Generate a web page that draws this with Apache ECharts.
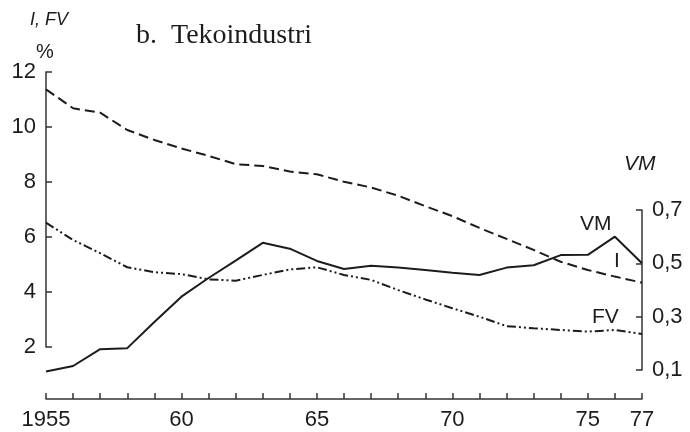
<!DOCTYPE html>
<html>
<head>
<meta charset="utf-8">
<script src="https://cdn.jsdelivr.net/npm/echarts@6/dist/echarts.min.js"></script>
<style>
  html, body { margin: 0; padding: 0; background: #fff; }
  #chart { width: 690px; height: 432px; }
</style>
</head>
<body>
<div id="chart"></div>
<script>
// Years 1955–1977
const years = [1955, 1956, 1957, 1958, 1959, 1960, 1961, 1962, 1963, 1964, 1965, 1966,
               1967, 1968, 1969, 1970, 1971, 1972, 1973, 1974, 1975, 1976, 1977];

// I (%), left axis
const seriesI = [11.37, 10.68, 10.52, 9.89, 9.53, 9.22, 8.95, 8.65, 8.58, 8.38, 8.28, 8.01,
                 7.80, 7.50, 7.12, 6.76, 6.33, 5.93, 5.53, 5.10, 4.80, 4.56, 4.34];

// FV (%), left axis
const seriesFV = [6.52, 5.89, 5.41, 4.90, 4.72, 4.65, 4.46, 4.41, 4.62, 4.82, 4.90, 4.62,
                  4.44, 4.07, 3.73, 3.41, 3.10, 2.76, 2.68, 2.62, 2.56, 2.62, 2.47];

// VM, right axis
const seriesVM = [0.094, 0.115, 0.178, 0.182, 0.28, 0.375, 0.445, 0.51, 0.577, 0.555, 0.509, 0.479,
                  0.491, 0.484, 0.475, 0.465, 0.456, 0.484, 0.493, 0.531, 0.532, 0.60, 0.50];

// Labelled years on the time axis
const yearLabels = { 1955: '1955', 1960: '60', 1965: '65', 1970: '70', 1975: '75', 1977: '77' };
const labelYears = [1955, 1960, 1965, 1970, 1975, 1977];
// Left and right tick values
const leftTicks = [2, 4, 6, 8, 10, 12];
const rightTicks = [0.1, 0.3, 0.5, 0.7];

const INK = '#1c1c1c';
const AXIS = '#333';
const SANS = '"Liberation Sans", Arial, sans-serif';

const pairs = (vals) => years.map((y, i) => [y, vals[i]]);
const tickStyle = { show: true, inside: true, length: 6, lineStyle: { color: AXIS, width: 1.5 } };

const chart = echarts.init(document.getElementById('chart'), null, { renderer: 'canvas' });

chart.setOption({
  animation: false,
  backgroundColor: '#fff',
  title: {
    text: 'b.  Tekoindustri',
    left: 131,
    top: 17,
    textStyle: { fontFamily: '"Liberation Serif", "Times New Roman", serif', fontWeight: 'normal', fontSize: 28, color: INK }
  },
  grid: [
    { left: 46, right: 48, top: 72, height: 275 },
    { left: 46, right: 48, top: 210, height: 160 }
  ],
  xAxis: [
    { gridIndex: 0, type: 'value', min: 1955, max: 1977, show: false },
    {
      gridIndex: 1, type: 'value', min: 1955, max: 1977, interval: 1, offset: 29,
      axisLine: { show: true, lineStyle: { color: AXIS, width: 1.5 } },
      axisTick: Object.assign({ customValues: years }, tickStyle),
      splitLine: { show: false },
      axisLabel: {
        margin: 10, color: INK, fontFamily: SANS, fontSize: 22, customValues: labelYears,
        formatter: (v) => yearLabels[v] || ''
      }
    }
  ],
  yAxis: [
    {
      gridIndex: 0, type: 'value', position: 'left', min: 2, max: 12, interval: 2,
      axisLine: { show: true, lineStyle: { color: AXIS, width: 1.5 } },
      axisTick: Object.assign({ customValues: leftTicks }, tickStyle),
      splitLine: { show: false },
      axisLabel: { margin: 10, color: INK, fontFamily: SANS, fontSize: 22, customValues: leftTicks }
    },
    {
      gridIndex: 1, type: 'value', position: 'right', min: 0.1, max: 0.7,
      axisLine: { show: true, lineStyle: { color: AXIS, width: 1.5 } },
      axisTick: Object.assign({ customValues: rightTicks }, tickStyle),
      splitLine: { show: false },
      axisLabel: {
        margin: 10, color: INK, fontFamily: SANS, fontSize: 22, customValues: rightTicks,
        formatter: (v) => v.toFixed(1).replace('.', ',')
      }
    }
  ],
  series: [
    {
      name: 'I', type: 'line', xAxisIndex: 0, yAxisIndex: 0, data: pairs(seriesI),
      showSymbol: false, clip: false,
      lineStyle: { color: INK, width: 2, type: [10, 5] }
    },
    {
      name: 'FV', type: 'line', xAxisIndex: 0, yAxisIndex: 0, data: pairs(seriesFV),
      showSymbol: false, clip: false,
      lineStyle: { color: INK, width: 2, type: [9, 3, 2, 3, 2, 3] }
    },
    {
      name: 'VM', type: 'line', xAxisIndex: 1, yAxisIndex: 1, data: pairs(seriesVM),
      showSymbol: false, clip: false,
      lineStyle: { color: INK, width: 2, type: 'solid' }
    }
  ],
  graphic: [
    { type: 'text', left: 30, top: 11, style: { text: 'I, FV', fontFamily: SANS, fontStyle: 'italic', fontSize: 18, fill: INK } },
    { type: 'text', left: 36, top: 42, style: { text: '%', fontFamily: SANS, fontSize: 20, fill: INK } },
    { type: 'text', left: 624, top: 154, style: { text: 'VM', fontFamily: SANS, fontStyle: 'italic', fontSize: 21, fill: INK } },
    { type: 'text', left: 580, top: 214, style: { text: 'VM', fontFamily: SANS, fontSize: 21, fill: INK } },
    { type: 'text', left: 614, top: 251, style: { text: 'I', fontFamily: SANS, fontSize: 21, fill: INK } },
    { type: 'text', left: 592, top: 307, style: { text: 'FV', fontFamily: SANS, fontSize: 21, fill: INK } }
  ]
});
</script>
</body>
</html>
